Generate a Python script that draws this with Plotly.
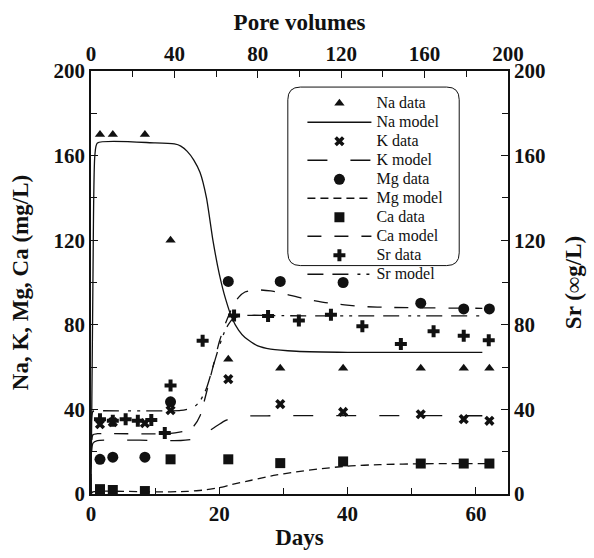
import plotly.graph_objects as go

# ---------------- data ----------------
na_days = [1.4, 3.4, 8.4, 12.4, 21.4, 29.5, 39.3, 51.4, 58.1, 62.1]
na_vals = [170, 170, 170, 120, 63.7, 59.5, 59.5, 59.5, 59.5, 59.5]

na_model_days = [0, 0.3, 0.6, 1, 10, 13, 14, 15, 16, 17, 18, 19, 20, 21, 22, 23, 24, 26, 28, 32, 40, 61]
na_model_vals = [0, 100, 160, 166, 166, 165.5, 164.5, 162, 158, 152, 140, 120, 104, 92, 83, 77.5, 74, 70, 68.5, 67.5, 67, 67]

k_days = [1.4, 3.4, 8.4, 12.4, 21.4, 29.5, 39.3, 51.4, 58.1, 62.1]
k_vals = [33, 34, 33.5, 39.6, 54.3, 42.5, 38.8, 37.7, 35.4, 34.6]

k_model_days = [0, 0.3, 1, 14, 16, 17, 18, 19, 20, 21, 22, 24, 28, 61]
k_model_vals = [0, 24, 25.2, 25.3, 26, 27, 29, 31, 33, 34.8, 36, 36.8, 37, 37]

mg_days = [1.4, 3.4, 8.4, 12.4, 21.4, 29.5, 39.3, 51.4, 58.1, 62.1]
mg_vals = [16.4, 17.4, 17.4, 43.6, 100.5, 100.5, 100, 90.2, 87.5, 87.5]

mg_model_days = [0, 0.3, 10, 15, 18, 20, 22, 25, 28, 32, 36, 40, 45, 52, 62]
mg_model_vals = [0, 1, 1, 1.2, 2, 3, 4.5, 6.5, 8.5, 10.5, 12, 13.2, 13.9, 14.3, 14.4]

ca_days = [1.4, 3.4, 8.4, 12.4, 21.4, 29.5, 39.3, 51.4, 58.1, 62.1]
ca_vals = [2.3, 1.9, 1.4, 16.4, 16.4, 14.6, 15.4, 14.4, 14.4, 14.4]

ca_model_days = [0, 0.3, 1, 12, 15, 16, 17, 18, 19, 20, 21, 22, 23, 24, 26, 28, 30, 33, 37, 42, 47, 61]
ca_model_vals = [0, 28, 28.5, 28.5, 30, 32, 37, 48, 60, 72, 81, 88, 93, 95.5, 96.5, 96, 94.8, 92.5, 90.3, 88.7, 88.2, 87.8]

sr_days = [1.4, 3.4, 5.4, 7.3, 9.4, 11.5, 12.4, 17.4, 22.3, 27.6, 32.4, 37.4, 42.3, 48.3, 53.4, 58.1, 62.0]
sr_vals = [35.4, 34.6, 35.4, 34.6, 35.0, 28.9, 51.3, 72.4, 84.4, 84.2, 82.0, 84.7, 79.3, 70.9, 77.0, 74.8, 72.7]

sr_model_days = [0, 0.3, 1, 14, 16, 17, 18, 19, 20, 21, 22, 23, 25, 30, 61]
sr_model_vals = [0, 39, 39.3, 39.5, 41, 44, 50, 60, 70, 78, 82.5, 84, 84.5, 84.3, 84.2]

# ---------------- styling ----------------
BLACK = "#111111"
SERIF = "Liberation Serif"

fig = go.Figure()

def label(text):
    return f"<span style='font-size:16px'>{text}</span>"

def data_trace(name, xs, ys, symbol, size, yaxis="y"):
    fig.add_trace(go.Scatter(x=xs, y=ys, name=label(name), mode="markers", yaxis=yaxis,
                             marker=dict(symbol=symbol, size=size, color=BLACK,
                                         line=dict(width=0))))

def model_trace(name, xs, ys, dash, yaxis="y"):
    fig.add_trace(go.Scatter(x=xs, y=ys, name=label(name), mode="lines", yaxis=yaxis,
                             line=dict(color=BLACK, width=1.3, dash=dash, shape="spline",
                                       smoothing=0.6)))

data_trace("Na data", na_days, na_vals, "triangle-up", 9)
model_trace("Na model", na_model_days, na_model_vals, "solid")
data_trace("K data", k_days, k_vals, "x", 9)
model_trace("K model", k_model_days, k_model_vals, "20px,23px")
data_trace("Mg data", mg_days, mg_vals, "circle", 11)
model_trace("Mg model", mg_model_days, mg_model_vals, "8px,5px")
data_trace("Ca data", ca_days, ca_vals, "square", 10)
model_trace("Ca model", ca_model_days, ca_model_vals, "14px,13px")
data_trace("Sr data", sr_days, sr_vals, "cross", 10, yaxis="y2")
model_trace("Sr model", sr_model_days, sr_model_vals, "16px,9px,16px,9px,3px,6px,3px,6px", yaxis="y2")

# invisible helper for the pore-volume axis
fig.add_trace(go.Scatter(x=[0, 200], y=[0, 0], xaxis="x2", yaxis="y", mode="markers",
                         marker=dict(opacity=0), showlegend=False, hoverinfo="skip"))

tickfont = dict(family=SERIF, size=21, color=BLACK, weight="bold")
titlefont = dict(family=SERIF, size=23, color=BLACK, weight="bold")
axis_common = dict(showgrid=False, zeroline=False, showline=True, linecolor=BLACK, linewidth=1.5,
                   ticks="inside", ticklen=7, tickwidth=1.3, tickcolor=BLACK, tickfont=tickfont)
minor_common = dict(ticks="inside", ticklen=6, tickcolor=BLACK, tickwidth=1.3)

fig.update_layout(
    width=594, height=558,
    margin=dict(l=91, r=75, t=71, b=59),
    paper_bgcolor="white", plot_bgcolor="white",
    xaxis=dict(range=[0, 65], dtick=20, tick0=0, minor=dict(dtick=10, **minor_common),
               title=dict(text="Days", font=titlefont, standoff=4), **axis_common),
    xaxis2=dict(range=[0, 200], dtick=40, tick0=0, overlaying="x", side="top", anchor="y",
                minor=dict(dtick=20, **minor_common),
                title=dict(text="Pore volumes", font=titlefont, standoff=5), **axis_common),
    yaxis=dict(range=[0, 200], dtick=40, tick0=0, minor=dict(dtick=20, **minor_common),
               title=dict(text="Na, K, Mg, Ca (mg/L)", font=titlefont, standoff=18), **axis_common),
    yaxis2=dict(range=[0, 200], dtick=40, tick0=0, overlaying="y", side="right", anchor="x",
                minor=dict(dtick=20, **minor_common),
                title=dict(text="Sr (\u221eg/L)", font=titlefont, standoff=20), **axis_common),
    legend=dict(x=0.507, y=0.958, xanchor="left", yanchor="top",
                bgcolor="rgba(0,0,0,0)", borderwidth=0,
                font=dict(family=SERIF, size=12.1, color=BLACK),
                tracegroupgap=0, itemwidth=64),
    showlegend=True,
)

# rounded legend frame
x0, x1, y0, y1, r = 0.472, 0.883, 0.54, 0.962, 0.03
path = (f"M {x0+r},{y1} L {x1-r},{y1} Q {x1},{y1} {x1},{y1-r} L {x1},{y0+r} "
        f"Q {x1},{y0} {x1-r},{y0} L {x0+r},{y0} Q {x0},{y0} {x0},{y0+r} "
        f"L {x0},{y1-r} Q {x0},{y1} {x0+r},{y1} Z")
fig.add_shape(type="path", path=path, xref="paper", yref="paper",
              line=dict(color=BLACK, width=1), fillcolor="rgba(0,0,0,0)")

fig.write_html("out.html")
